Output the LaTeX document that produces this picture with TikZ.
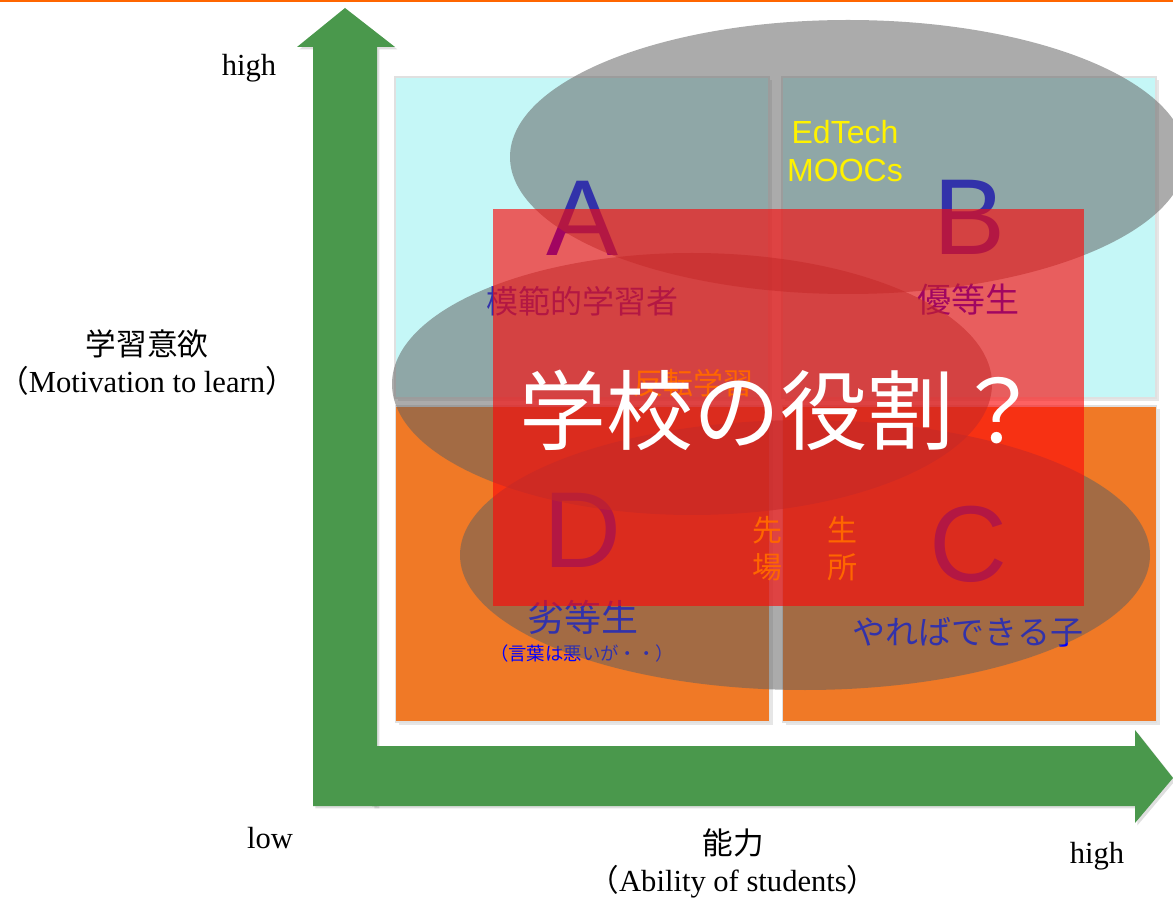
\documentclass[tikz,border=0pt]{standalone}
\usepackage{fontspec}
\setmainfont{Liberation Serif}
\setsansfont{Liberation Sans}
\newfontfamily\cjk{Noto Sans CJK JP}
\usetikzlibrary{positioning,shadows}

\definecolor{axisgreen}{RGB}{74,152,76}
\definecolor{quadcyan}{RGB}{197,247,247}
\definecolor{quadorange}{RGB}{240,121,38}
\definecolor{hilite}{RGB}{255,102,0}
\definecolor{veil}{RGB}{96,96,96}
\definecolor{redveil}{RGB}{252,9,9}

\begin{document}
\begin{tikzpicture}[x=0.5pt,y=-0.5pt,
    axis/.style={fill=axisgreen,drop shadow={opacity=0.25,shadow xshift=1.2pt,shadow yshift=-1.2pt}},
    quad/.style={draw=black!12,line width=0.6pt,inner sep=0pt,minimum width=187pt,
        drop shadow={opacity=0.2,shadow xshift=1.5pt,shadow yshift=-1.5pt}},
    letter/.style={font=\sffamily\fontsize{54}{54}\selectfont,text=blue},
    kind/.style={font=\cjk\fontsize{16}{18}\selectfont,text=blue},
    axlabel/.style={font=\fontsize{15.3}{18.5}\selectfont,align=center},
    note/.style={font=\cjk\fontsize{15}{18.5}\selectfont,text=hilite,align=center}]
        \useasboundingbox (0,0) rectangle (1173,903);
        \fill[hilite] (0,0) rectangle (1173,2.5);

        % axes
        \fill[axis] (313,806) -- (313,47) -- (297,47) -- (345,8) -- (395,47)
            -- (377,47) -- (377,806) -- cycle;
        \fill[axis] (372,746) -- (1135,746) -- (1135,730) -- (1173,778)
            -- (1135,823) -- (1135,806) -- (372,806) -- cycle;

        % quadrants
        \node[quad,fill=quadcyan,minimum height=160.5pt]   (qA) at (582,237.5) {};
        \node[quad,fill=quadcyan,minimum height=160.5pt]   (qB) at (969,237.5) {};
        \node[quad,fill=quadorange,minimum height=158pt]   (qD) at (582.5,564) {};
        \node[quad,fill=quadorange,minimum height=158pt]   (qC) at (969.5,564) {};

        \node[letter] (A) at (583,218) {A};
        \node[letter] (B) at (970,217) {B};
        \node[letter] (D) at (582,530) {D};
        \node[letter] (C) at (968,544) {C};

        \node[kind]                          (kA) at (582,301) {模範的学習者};
        \node[kind,font=\cjk\fontsize{17}{18}\selectfont] (kB) at (968,300) {優等生};
        \node[kind,font=\cjk\fontsize{18.5}{18}\selectfont] (kD) at (583,617) {劣等生};
        \node[kind,font=\cjk\fontsize{9.2}{10}\selectfont]  (kD2) at (582,654) {（言葉は悪いが・・）};
        \node[kind,font=\cjk\fontsize{16.5}{18}\selectfont] (kC) at (968,632) {やればできる子};

        % groups
        \fill[veil,fill opacity=0.53] (848,157) ellipse [x radius=338,y radius=137];
        \fill[veil,fill opacity=0.53] (692,384) ellipse [x radius=300,y radius=131];
        \fill[veil,fill opacity=0.53] (805,555) ellipse [x radius=345,y radius=135];

        \fill[redveil,fill opacity=0.64] (493,209) rectangle (1084,606);

        \node[font=\sffamily\fontsize{16}{19}\selectfont,text=yellow,align=center] (ed) at (845,151) {EdTech\\MOOCs};
        \node[note] (flip) at (693,383) {反転学習};
        \node[note] (n1) at (767,548.5) {先\\場};
        \node[note] (n2) at (842,548.5) {生\\所};

        \node[font=\cjk\fontsize{43.5}{44}\selectfont,text=white] (role) at (780,410) {学校の役割？};

        % axis labels
        \node[axlabel] (yhigh) at (249,68) {high};
        \node[axlabel] (ylab) at (147,363) {{\cjk 学習意欲}\\{\cjk （}Motivation to learn{\cjk ）}};
        \node[axlabel] (low) at (270,838) {low};
        \node[axlabel] (xlab) at (733,863.5) {{\cjk 能力}\\{\cjk （}Ability of students{\cjk ）}};
        \node[axlabel] (xhigh) at (1097,856) {high};
\end{tikzpicture}
\end{document}
